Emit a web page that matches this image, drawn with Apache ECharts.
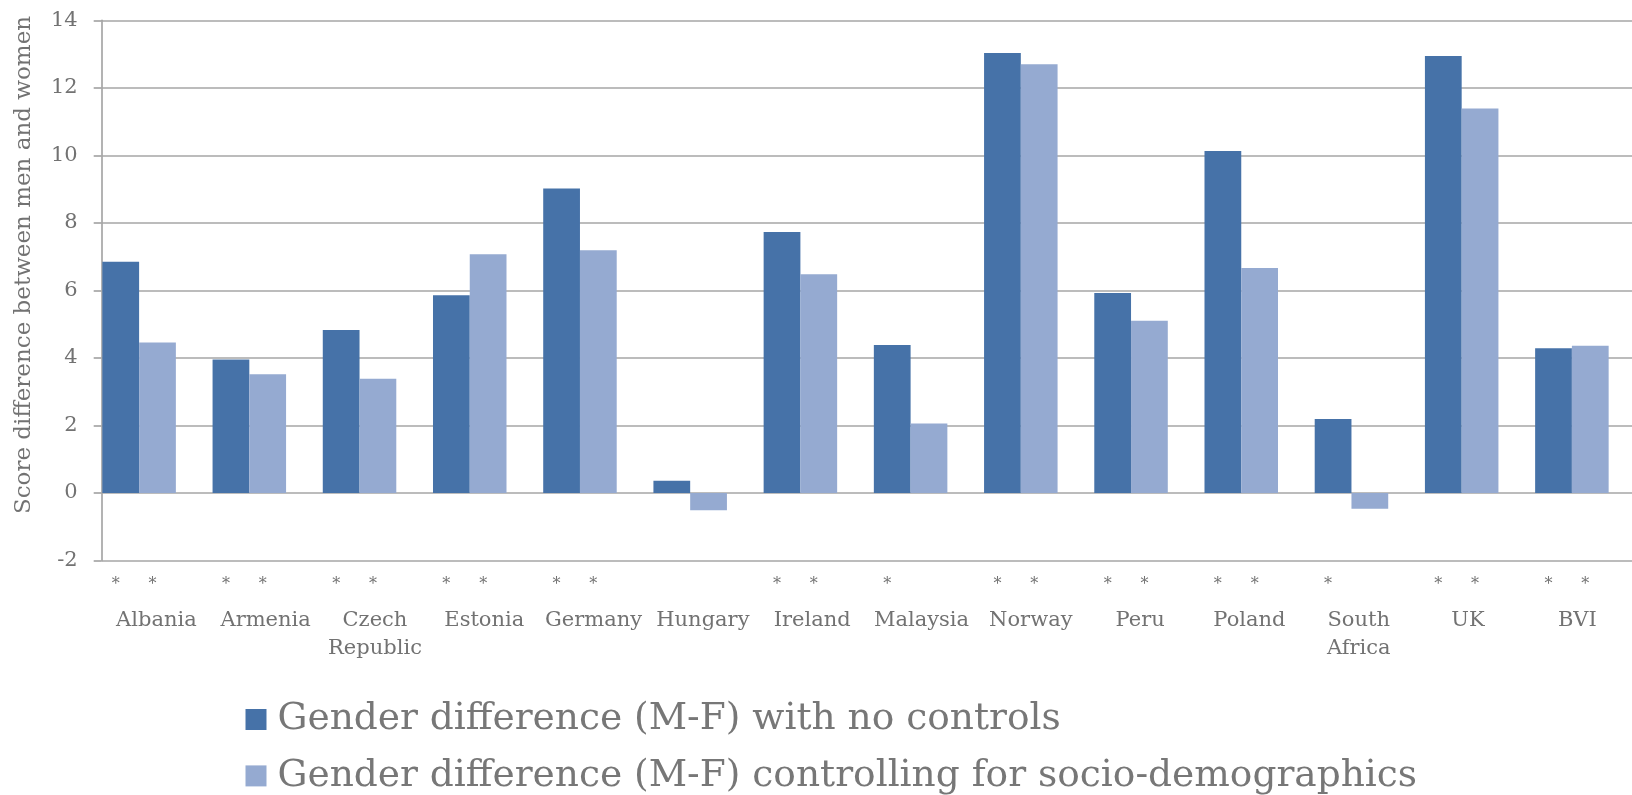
<!DOCTYPE html>
<html>
<head>
<meta charset="utf-8">
<script src="https://cdn.jsdelivr.net/npm/echarts@6/dist/echarts.min.js"></script>
<style>
html,body{margin:0;padding:0;background:#fff;}
#chart{width:1632px;height:795px;}
</style>
</head>
<body>
<div id="chart"></div>
<script>
const categories = ['Albania','Armenia','Czech\nRepublic','Estonia','Germany','Hungary','Ireland','Malaysia','Norway','Peru','Poland','South\nAfrica','UK','BVI'];
const noControls = [6.85, 3.95, 4.83, 5.86, 9.02, 0.36, 7.73, 4.38, 13.03, 5.92, 10.13, 2.19, 12.94, 4.29];
const withControls = [4.46, 3.52, 3.38, 7.07, 7.19, -0.51, 6.48, 2.06, 12.70, 5.10, 6.66, -0.47, 11.39, 4.36];
const starsNoControls = [1,1,1,1,1,0,1,1,1,1,1,1,1,1];
const starsWithControls = [1,1,1,1,1,0,1,0,1,1,1,0,1,1];
const seriesNames = ['Gender difference (M-F) with no controls','Gender difference (M-F) controlling for socio-demographics'];
const yTitle = 'Score difference between men and women';

const FONT = 'DejaVu Serif';
const TXT = '#727272';
const GRIDC = '#a6a6a6';
const DARK = '#4672a8';
const LIGHT = '#95aad1';

const chart = echarts.init(document.getElementById('chart'), null, {renderer:'canvas'});

function starLabel(flags){
  return {
    show: true, position: 'bottom', distance: 84, offset: [-5, 0],
    color: TXT, fontSize: 16, fontFamily: FONT,
    formatter: p => flags[p.dataIndex] ? '*' : ''
  };
}

chart.setOption({
  animation: false,
  backgroundColor: '#fff',
  grid: [
    {left: 84, width: 1543, top: 20.3, bottom: 234.5},
    {left: 101.7, width: 1543, top: 20.3, bottom: 234.5}
  ],
  xAxis: [
    {type: 'category', gridIndex: 0, data: categories, show: false},
    {type: 'category', gridIndex: 1, data: categories,
      axisLine: {show: false}, axisTick: {show: false},
      axisLabel: {interval: 0, color: TXT, fontFamily: FONT, fontSize: 21, lineHeight: 28, margin: 46}}
  ],
  yAxis: [
    {type: 'value', gridIndex: 0, min: -2, max: 14, interval: 2, show: false},
    {type: 'value', gridIndex: 1, min: -2, max: 14, interval: 2,
      axisLine: {show: true, lineStyle: {color: GRIDC, width: 1.7}},
      axisTick: {show: true, length: 8, lineStyle: {color: GRIDC, width: 1.7}},
      splitLine: {show: true, lineStyle: {color: GRIDC, width: 1.7}},
      axisLabel: {color: TXT, fontFamily: FONT, fontSize: 21, margin: 24}}
  ],
  legend: {
    orient: 'vertical', left: 245.5, top: 700.5, padding: 0,
    itemWidth: 21, itemHeight: 21, itemGap: 18.4,
    icon: 'rect',
    textStyle: {color: '#777777', fontFamily: FONT, fontSize: 37.5, lineHeight: 37, padding: [0,0,0,6]},
    data: seriesNames
  },
  graphic: [{
    type: 'text', x: 24, y: 265, rotation: Math.PI/2,
    style: {text: yTitle, fill: TXT, font: '23px "DejaVu Serif"', align: 'center', verticalAlign: 'middle'}
  }],
  series: [
    {name: seriesNames[0], type: 'bar', xAxisIndex: 0, yAxisIndex: 0, data: noControls,
      itemStyle: {color: DARK}, barGap: '0%', barCategoryGap: '33.3%', label: starLabel(starsNoControls)},
    {name: seriesNames[1], type: 'bar', xAxisIndex: 0, yAxisIndex: 0, data: withControls,
      itemStyle: {color: LIGHT}, barGap: '0%', barCategoryGap: '33.3%', label: starLabel(starsWithControls)}
  ]
});
</script>
</body>
</html>
